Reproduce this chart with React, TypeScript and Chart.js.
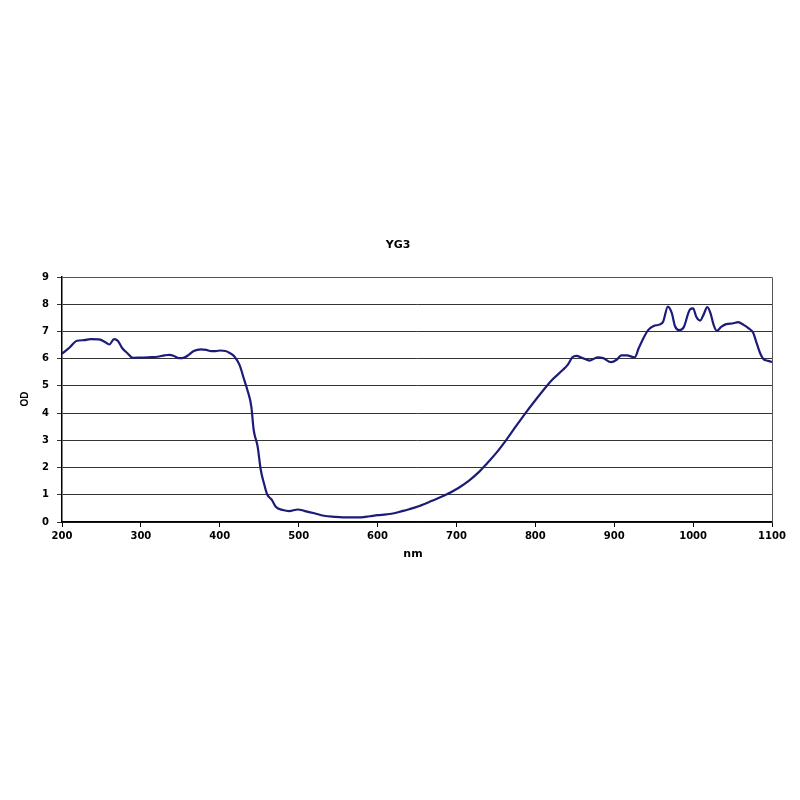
import React, { useEffect, useRef } from "react";
import { Chart, registerables } from "chart.js";

Chart.register(...registerables);

const chartTitle = "YG3";
const xTitle = "nm";
const yTitle = "OD";

const wavelengths = [
  200, 210, 219, 228, 236, 247, 254, 260, 266, 271, 276, 283, 290, 300, 310, 321, 330, 336, 342, 348,
  355, 361, 367, 376, 383, 389, 395, 401, 407, 412, 418, 425, 431, 435, 440, 443, 448, 452, 456, 460,
  466, 471, 480, 488, 499, 507, 520, 532, 545, 556, 566, 579, 590, 600, 611, 621, 630, 640, 653, 669,
  686, 703, 716, 729, 739, 750, 763, 775, 788, 801, 814, 822, 835, 841, 847, 852, 860, 869, 879, 886,
  896, 903, 909, 916, 926, 931, 937, 943, 950, 958, 962, 968, 973, 977, 982, 988, 996, 1000, 1004, 1009,
  1013, 1018, 1022, 1026, 1030, 1036, 1042, 1051, 1057, 1064, 1070, 1076, 1080, 1085, 1089, 1095, 1100,
];

const odValues = [
  6.18, 6.42, 6.66, 6.68, 6.72, 6.71, 6.62, 6.52, 6.72, 6.65, 6.4, 6.2, 6.03, 6.04, 6.05, 6.07, 6.12, 6.14, 6.1, 6.02,
  6.04, 6.15, 6.28, 6.34, 6.32, 6.28, 6.28, 6.3, 6.28, 6.22, 6.1, 5.77, 5.22, 4.85, 4.24, 3.38, 2.77, 1.91, 1.42, 1.02,
  0.81, 0.56, 0.44, 0.4, 0.46, 0.41, 0.32, 0.23, 0.19, 0.17, 0.17, 0.17, 0.21, 0.25, 0.28, 0.32, 0.39, 0.47, 0.59, 0.78,
  0.99, 1.26, 1.52, 1.85, 2.16, 2.52, 3.01, 3.5, 4.02, 4.51, 4.98, 5.24, 5.59, 5.77, 6.05, 6.1, 6.02, 5.93, 6.05, 6.02,
  5.87, 5.96, 6.12, 6.12, 6.05, 6.38, 6.75, 7.05, 7.2, 7.26, 7.36, 7.91, 7.67, 7.2, 7.05, 7.15, 7.81, 7.85, 7.54, 7.4,
  7.6, 7.89, 7.67, 7.24, 7.02, 7.18, 7.27, 7.3, 7.34, 7.24, 7.12, 6.96, 6.62, 6.2, 5.99, 5.92, 5.88,
];

const WIDE = "'DejaVu Sans', sans-serif";
const NARROW = "'Liberation Sans', Arial, sans-serif";

const textPlugin = {
  id: "textPlugin",
  afterDraw(chart: any) {
    const { ctx, chartArea } = chart;
    ctx.save();
    ctx.strokeStyle = "#555";
    ctx.lineWidth = 1;
    ctx.beginPath();
    ctx.moveTo(chartArea.left, chartArea.top + 0.5);
    ctx.lineTo(chartArea.right + 0.5, chartArea.top + 0.5);
    ctx.lineTo(chartArea.right + 0.5, chartArea.bottom);
    ctx.stroke();
    ctx.fillStyle = "#000";
    ctx.textAlign = "center";
    ctx.textBaseline = "middle";
    ctx.font = `bold 11px ${WIDE}`;
    ctx.fillText(chartTitle, 398, 245);
    ctx.font = `bold 11px ${WIDE}`;
    ctx.fillText(xTitle, 413, 554);
    ctx.font = `bold 10px ${NARROW}`;
    ctx.translate(25, 399);
    ctx.rotate(-Math.PI / 2);
    ctx.fillText(yTitle, 0, 0);
    ctx.restore();
  },
};

export default function App() {
  const ref = useRef<HTMLCanvasElement>(null);
  useEffect(() => {
    if (!ref.current) return;
    const chart = new Chart(ref.current, {
      type: "line",
      data: {
        datasets: [
          {
            data: wavelengths.map((w, i) => ({ x: w, y: odValues[i] })),
            borderColor: "#1c1c78",
            borderWidth: 2.2,
            pointRadius: 0,
            cubicInterpolationMode: "monotone",
            fill: false,
          },
        ],
      },
      options: {
        animation: false,
        responsive: false,
        layout: { padding: { top: 277, right: 28, left: 0, bottom: 0 } },
        plugins: { legend: { display: false }, title: { display: false }, tooltip: { enabled: false } },
        scales: {
          x: {
            type: "linear",
            min: 200,
            max: 1100,
            afterFit: (s: any) => {
              s.height = 278;
            },
            ticks: {
              stepSize: 100,
              color: "#000",
              font: { family: WIDE, size: 10, weight: "bold" },
              padding: 3,
              maxRotation: 0,
              callback: (v: any) => String(v),
            },
            grid: { drawOnChartArea: false, drawTicks: true, tickLength: 5, color: "#000" },
            border: { color: "#000", width: 1.5 },
          },
          y: {
            min: 0,
            max: 9,
            afterFit: (s: any) => {
              s.width = 62;
            },
            ticks: {
              stepSize: 1,
              color: "#000",
              font: { family: WIDE, size: 10, weight: "bold" },
              padding: 8,
              callback: (v: any) => String(v),
            },
            grid: { color: "#333", lineWidth: 1, tickLength: 5 },
            border: { color: "#000", width: 1.5 },
          },
        },
      },
      plugins: [textPlugin],
    });
    return () => chart.destroy();
  }, []);
  return (
    <div style={{ position: "absolute", left: 0, top: 0, width: 800, height: 800, background: "#fff" }}>
      <canvas ref={ref} width={800} height={800} />
    </div>
  );
}
